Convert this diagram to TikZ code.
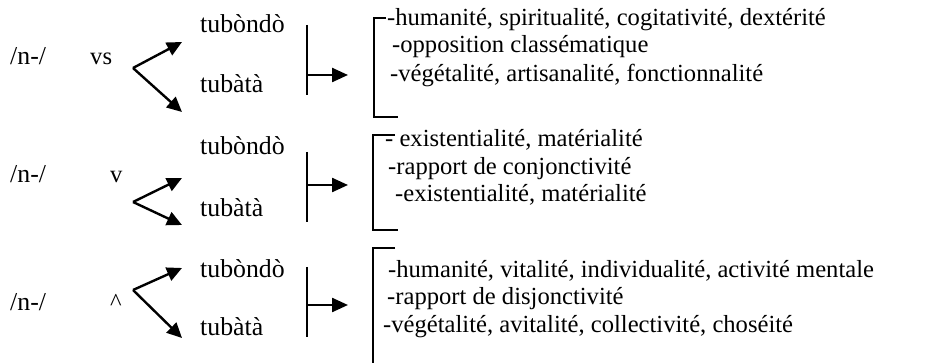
\documentclass[tikz,border=0pt]{standalone}
\usepackage{fontspec}
\setmainfont{Liberation Serif}
\usetikzlibrary{arrows.meta}
\begin{document}
\begin{tikzpicture}[x=1pt,y=-1pt,
  txt/.style={anchor=base west,inner sep=0pt,font=\fontsize{24.6}{29}\selectfont},
  lbl/.style={anchor=base west,inner sep=0pt,font=\fontsize{25.8}{30}\selectfont},
  branch/.style={line width=2.4pt,-{Triangle[length=15pt,width=14pt]}},
  bar/.style={line width=2pt},
  result/.style={line width=2.4pt,-{Triangle[length=16pt,width=14pt]}},
  brk/.style={line width=2pt}]
\useasboundingbox[fill=white] (0,0) rectangle (926,363);

% ---------- Row 1 ----------
\node[lbl] (n1) at (10,65) {/n-/};
\node[txt] (o1) at (90,65) {vs};
\node[lbl] (a1) at (200,33) {tubòndò};
\node[lbl] (b1) at (200,93) {tubàtà};
\coordinate (v1) at (133,68);
\coordinate (ta1) at (182,42);
\coordinate (tb1) at (182,112);
\draw[branch] (v1) -- (ta1);
\draw[branch] (v1) -- (tb1);
\coordinate (bt1) at (307,25);
\coordinate (bb1) at (307,95);
\coordinate (bm1) at (307,75);
\coordinate (bh1) at (348,75);
\draw[bar] (bt1) -- (bb1);
\draw[result] (bm1) -- (bh1);
\draw[brk] (386,18) -- (374,18) -- (374,117) -- (398,117);
\node[txt] (l11) at (387,26) {-humanité, spiritualité, cogitativité, dextérité};
\node[txt] (l12) at (392,53) {-opposition classématique};
\node[txt] (l13) at (390,82) {-végétalité, artisanalité, fonctionnalité};

% ---------- Row 2 ----------
\node[lbl] (n2) at (10,183) {/n-/};
\node[txt] (o2) at (110,183) {v};
\node[lbl] (a2) at (200,155) {tubòndò};
\node[lbl] (b2) at (200,217) {tubàtà};
\coordinate (v2) at (133,202);
\coordinate (ta2) at (182,178);
\coordinate (tb2) at (182,225);
\draw[branch] (v2) -- (ta2);
\draw[branch] (v2) -- (tb2);
\coordinate (bt2) at (307,152);
\coordinate (bb2) at (307,222);
\coordinate (bm2) at (307,185);
\coordinate (bh2) at (348,185);
\draw[bar] (bt2) -- (bb2);
\draw[result] (bm2) -- (bh2);
\draw[brk] (395,135) -- (373,135) -- (373,230) -- (398,230);
\node[txt] (l21) at (385,147) {- existentialité, matérialité};
\node[txt] (l22) at (388,175) {-rapport de conjonctivité};
\node[txt] (l23) at (395,202) {-existentialité, matérialité};

% ---------- Row 3 ----------
\node[lbl] (n3) at (10,310) {/n-/};
\node[txt] (o3) at (110,310) {\^{}};
\node[lbl] (a3) at (200,278) {tubòndò};
\node[lbl] (b3) at (200,335) {tubàtà};
\coordinate (v3) at (133,290);
\coordinate (ta3) at (182,268);
\coordinate (tb3) at (182,338);
\draw[branch] (v3) -- (ta3);
\draw[branch] (v3) -- (tb3);
\coordinate (bt3) at (307,267);
\coordinate (bb3) at (307,337);
\coordinate (bm3) at (307,305);
\coordinate (bh3) at (348,305);
\draw[bar] (bt3) -- (bb3);
\draw[result] (bm3) -- (bh3);
\draw[brk] (395,248) -- (373,248) -- (373,363);
\node[txt] (l31) at (388,278) {-humanité, vitalité, individualité, activité mentale};
\node[txt] (l32) at (387,305) {-rapport de disjonctivité};
\node[txt] (l33) at (383,332) {-végétalité, avitalité, collectivité, choséité};
\end{tikzpicture}
\end{document}
